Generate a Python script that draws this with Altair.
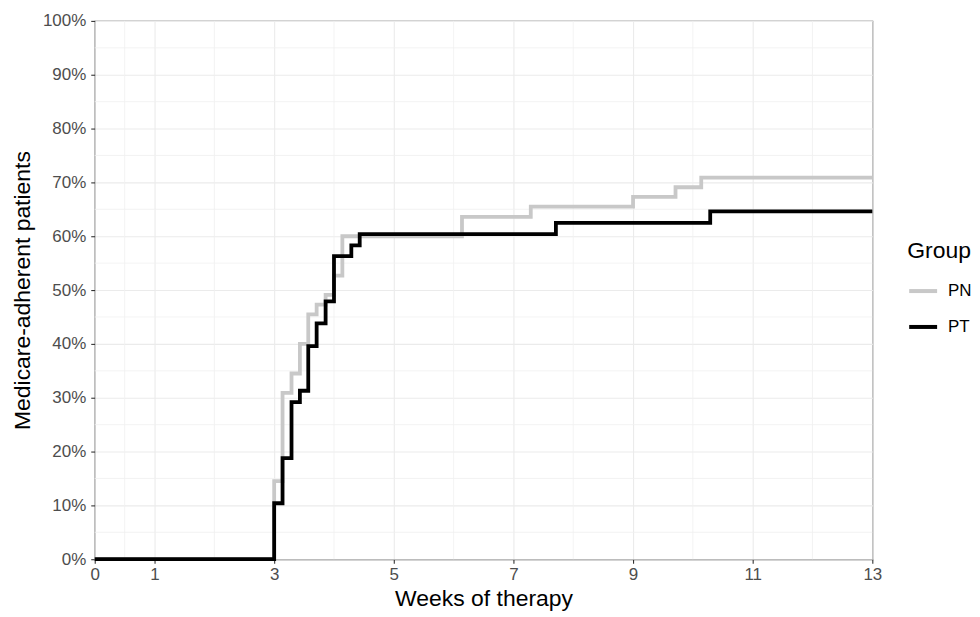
import altair as alt
import pandas as pd

# PN group (grey) step points: weeks of therapy, % adherent
pn_weeks = [0, 3.0, 3.14, 3.29, 3.43, 3.57, 3.71, 3.86, 4.0, 4.14, 6.14, 7.29, 9.0, 9.71, 10.14, 13]
pn_pct = [0, 14.5, 30.9, 34.5, 40.0, 45.5, 47.3, 49.1, 52.7, 60.0, 63.6, 65.5, 67.3, 69.1, 70.9, 70.9]

# PT group (black)
pt_weeks = [0, 3.0, 3.14, 3.29, 3.43, 3.57, 3.71, 3.86, 4.0, 4.29, 4.43, 7.71, 10.29, 13]
pt_pct = [0, 10.4, 18.8, 29.2, 31.3, 39.6, 43.8, 47.9, 56.3, 58.3, 60.4, 62.5, 64.6, 64.6]

groups = ["PN", "PT"]
colors = ["#C8C8C8", "#000000"]

x_ticks = [0, 1, 3, 5, 7, 9, 11, 13]
x_minor = [0.5, 2, 4, 6, 8, 10, 12]
y_ticks = [0, 0.1, 0.2, 0.3, 0.4, 0.5, 0.6, 0.7, 0.8, 0.9, 1.0]
y_minor = [0.05, 0.15, 0.25, 0.35, 0.45, 0.55, 0.65, 0.75, 0.85, 0.95]

rows = []
for w, p in zip(pn_weeks, pn_pct):
    rows.append({"Group": "PN", "week": w, "pct": p / 100})
for w, p in zip(pt_weeks, pt_pct):
    rows.append({"Group": "PT", "week": w, "pct": p / 100})
df = pd.DataFrame(rows)

FONT = "Liberation Sans"
GRID = "#EBEBEB"

xscale = alt.Scale(domain=[0, 13], nice=False, zero=False)
yscale = alt.Scale(domain=[0, 1], nice=False)

xminor = alt.Chart(pd.DataFrame({"x": x_minor})).mark_rule(
    color="#F0F0F0", strokeWidth=0.8
).encode(x=alt.X("x:Q", scale=xscale))

yminor = alt.Chart(pd.DataFrame({"y": y_minor})).mark_rule(
    color="#F0F0F0", strokeWidth=0.8
).encode(y=alt.Y("y:Q", scale=yscale))

lines = alt.Chart(df).mark_line(
    interpolate="step-after", strokeWidth=3.8, strokeCap="butt", strokeJoin="miter"
).encode(
    x=alt.X(
        "week:Q",
        scale=xscale,
        title="Weeks of therapy",
        axis=alt.Axis(values=x_ticks, format="d", labelFlush=False),
    ),
    y=alt.Y(
        "pct:Q",
        scale=yscale,
        title="Medicare-adherent patients",
        axis=alt.Axis(values=y_ticks, format=".0%"),
    ),
    color=alt.Color(
        "Group:N",
        scale=alt.Scale(domain=groups, range=colors),
        legend=alt.Legend(
            title="Group",
            orient="none",
            legendX=815,
            legendY=220,
            symbolType="stroke",
            symbolSize=784,
            symbolStrokeWidth=4,
            rowPadding=12,
            labelOffset=9,
        ),
    ),
    order=alt.Order("Group:N"),
)

chart = alt.layer(xminor, yminor, lines).properties(
    width=780,
    height=540,
    autosize=alt.AutoSizeParams(type="none"),
    padding={"left": 87, "top": 12, "right": 100, "bottom": 54},
).configure_view(
    stroke="#333333", strokeWidth=1.1
).configure_axis(
    grid=True,
    gridColor=GRID,
    gridWidth=1.1,
    domain=False,
    tickColor="#333333",
    tickSize=4,
    tickWidth=1.1,
    labelFont=FONT,
    labelFontSize=17,
    labelColor="#4D4D4D",
    titleFont=FONT,
    titleFontSize=23,
    titleFontWeight="normal",
    titleColor="#000000",
).configure_axisY(
    labelPadding=5,
    titlePadding=8,
).configure_axisX(
    labelPadding=3,
    titlePadding=5,
).configure_legend(
    titleFont=FONT,
    titleFontSize=23,
    titleFontWeight="normal",
    titleColor="#000000",
    labelFont=FONT,
    labelFontSize=17,
    labelColor="#000000",
    titlePadding=12,
)

chart.save("out.html", embed_options={"renderer": "svg", "actions": False})
